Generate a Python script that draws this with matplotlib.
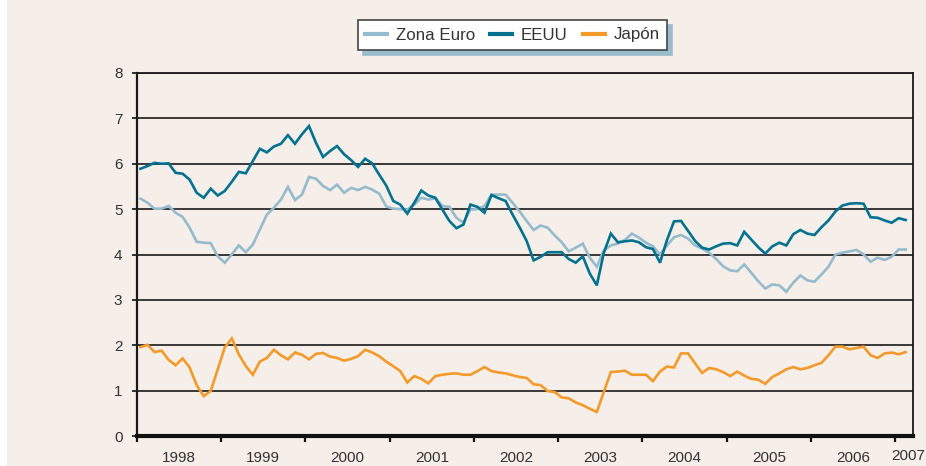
import matplotlib
matplotlib.use("Agg")
import matplotlib.pyplot as plt
from matplotlib import font_manager
from matplotlib.patches import Rectangle
from matplotlib.lines import Line2D
import numpy as np

# monthly series, Jan 1998 .. Feb 2007
years = ["1998", "1999", "2000", "2001", "2002", "2003", "2004", "2005", "2006", "2007"]
series_labels = ["Zona Euro", "EEUU", "Japón"]

zona_euro = [
    5.23, 5.14, 5.01, 5.01, 5.07, 4.92, 4.83, 4.59, 4.28, 4.26, 4.25, 3.96, 3.82, 4.00, 4.20, 4.05, 4.22, 4.55, 4.88,
    5.03, 5.21, 5.49, 5.20, 5.32, 5.71, 5.67, 5.51, 5.42, 5.54, 5.36, 5.47, 5.42, 5.49, 5.43, 5.34, 5.06, 5.01,
    5.00, 4.99, 5.10, 5.25, 5.21, 5.24, 5.07, 5.05, 4.81, 4.70, 4.99, 5.00, 5.07, 5.32, 5.32, 5.32, 5.14, 4.95,
    4.74, 4.54, 4.64, 4.59, 4.42, 4.27, 4.07, 4.15, 4.24, 3.93, 3.73, 4.09, 4.20, 4.24, 4.32, 4.46, 4.37, 4.26,
    4.18, 4.00, 4.20, 4.38, 4.43, 4.35, 4.20, 4.13, 4.04, 3.90, 3.74, 3.65, 3.63, 3.78, 3.60, 3.41, 3.25, 3.34,
    3.32, 3.18, 3.38, 3.54, 3.43, 3.40, 3.56, 3.73, 4.00, 4.04, 4.07, 4.10, 4.00, 3.84, 3.93, 3.88, 3.95, 4.11, 4.11,
]
eeuu = [
    5.89, 5.95, 6.02, 6.00, 6.01, 5.80, 5.78, 5.65, 5.36, 5.25, 5.45, 5.30, 5.40, 5.60, 5.82, 5.79, 6.06, 6.33, 6.25,
    6.38, 6.44, 6.63, 6.44, 6.65, 6.83, 6.46, 6.15, 6.28, 6.39, 6.21, 6.08, 5.93, 6.11, 6.01, 5.76, 5.52, 5.18,
    5.10, 4.90, 5.14, 5.41, 5.30, 5.25, 4.99, 4.74, 4.58, 4.66, 5.10, 5.05, 4.92, 5.31, 5.24, 5.18, 4.88, 4.60,
    4.30, 3.87, 3.95, 4.05, 4.05, 4.05, 3.90, 3.82, 3.96, 3.58, 3.32, 4.04, 4.46, 4.27, 4.29, 4.31, 4.27, 4.16,
    4.12, 3.82, 4.32, 4.73, 4.74, 4.52, 4.30, 4.15, 4.11, 4.18, 4.24, 4.25, 4.20, 4.50, 4.33, 4.16, 4.02, 4.18,
    4.26, 4.20, 4.45, 4.54, 4.46, 4.43, 4.60, 4.75, 4.95, 5.08, 5.12, 5.13, 5.12, 4.82, 4.81, 4.75, 4.70, 4.80, 4.76,
]
japon = [
    1.96, 2.01, 1.85, 1.88, 1.68, 1.56, 1.71, 1.51, 1.12, 0.88, 0.99, 1.47, 1.95, 2.15, 1.80, 1.54, 1.35, 1.64, 1.72,
    1.90, 1.78, 1.69, 1.84, 1.79, 1.69, 1.81, 1.83, 1.75, 1.72, 1.66, 1.70, 1.76, 1.90, 1.84, 1.76, 1.64, 1.54,
    1.43, 1.18, 1.32, 1.26, 1.16, 1.32, 1.35, 1.37, 1.38, 1.35, 1.35, 1.43, 1.52, 1.43, 1.40, 1.38, 1.34, 1.30,
    1.28, 1.14, 1.12, 0.99, 0.97, 0.85, 0.83, 0.74, 0.68, 0.60, 0.53, 0.97, 1.41, 1.42, 1.44, 1.35, 1.35, 1.35,
    1.21, 1.42, 1.53, 1.51, 1.82, 1.82, 1.60, 1.39, 1.50, 1.47, 1.41, 1.32, 1.42, 1.33, 1.26, 1.24, 1.15, 1.30,
    1.38, 1.47, 1.52, 1.47, 1.50, 1.56, 1.61, 1.78, 1.97, 1.97, 1.91, 1.94, 1.97, 1.78, 1.72, 1.82, 1.84, 1.80, 1.85,
]

colors = ["#96bbcc", "#00728f", "#f39a2a"]
BG = "#f6eee8"
TXT = "#333333"

names = {f.name for f in font_manager.fontManager.ttflist}
tick_font = "Liberation Sans Narrow" if "Liberation Sans Narrow" in names else "Liberation Sans"

W, H = 926, 466
fig = plt.figure(figsize=(W / 100, H / 100), dpi=100, facecolor="white")
fig.add_artist(Rectangle((7 / W, 0), 1, 1, transform=fig.transFigure,
                         facecolor=BG, edgecolor="none", zorder=-5))

ax = fig.add_axes([137 / W, 1 - 436 / H, (912.7 - 137) / W, (436 - 73) / H])
ax.set_facecolor("none")

x = np.arange(len(eeuu)) + 0.5
for vals, c in zip([zona_euro, eeuu, japon], colors):
    ax.plot(x, vals, color=c, lw=1.9, solid_joinstyle="miter", zorder=3)

ax.set_xlim(0, 110.5)
ax.set_ylim(0, 8)
ax.set_yticks(range(0, 9))
ax.set_axisbelow(True)
ax.yaxis.grid(True, color="#1a1a1a", lw=1.2)

# year boundaries as marks, year names centred between them
ax.set_xticks(np.arange(0, 109, 12))
ax.set_xticklabels([])
ax.tick_params(axis="x", which="major", direction="out", length=4, width=1.6, color="#111111")
ax.set_xticks(np.arange(len(years) - 1) * 12 + 6, minor=True)
ax.set_xticklabels(years[:-1], minor=True, fontsize=11, family=tick_font, color=TXT)
ax.tick_params(axis="x", which="minor", length=0, pad=11)
# last (partial) year squeezed against the right edge
fig.text(925 / W, 1 - 449 / H, years[-1], ha="right", va="top", fontsize=11,
         family=tick_font, color=TXT)

ax.tick_params(axis="y", direction="out", length=3.5, width=1.2, pad=7, color="#111111",
               labelsize=11, labelcolor=TXT)
for lab in ax.get_yticklabels():
    lab.set_family(tick_font)

for side in ["top", "right", "left"]:
    ax.spines[side].set_color("#1a1a1a")
    ax.spines[side].set_linewidth(1.3)
ax.spines["left"].set_linewidth(1.6)
ax.spines["bottom"].set_color("#111111")
ax.spines["bottom"].set_linewidth(3)

handles = [Line2D([], [], color=c, lw=3) for c in colors]
leg = fig.legend(handles, series_labels, loc="center", bbox_to_anchor=(512.5 / W, 1 - 35 / H),
                 ncol=3, frameon=True, fancybox=False,
                 shadow={"ox": 3.5, "oy": -3.5, "color": "#9bbccc", "alpha": 1},
                 prop={"family": "Liberation Sans", "size": 12.2},
                 handlelength=1.3, handletextpad=0.5, columnspacing=0.9,
                 borderpad=0.45, edgecolor="#444444", facecolor="white", framealpha=1)
leg.get_frame().set_linewidth(1.2)
for t in leg.get_texts():
    t.set_color(TXT)

fig.savefig("out.png", dpi=100, facecolor=fig.get_facecolor())
